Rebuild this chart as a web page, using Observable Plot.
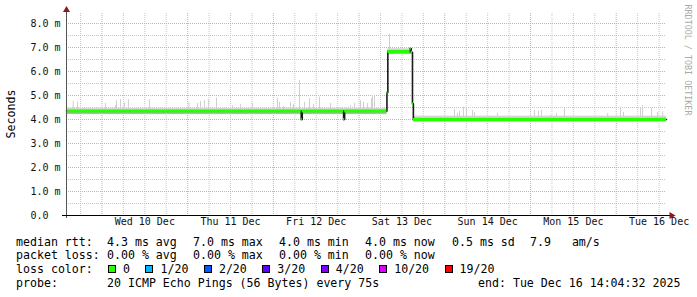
<!DOCTYPE html>
<html>
<head>
<meta charset="utf-8">
<script src="https://cdn.jsdelivr.net/npm/d3@7"></script>
<script src="https://cdn.jsdelivr.net/npm/@observablehq/plot@0.6"></script>
<style>
  html, body { margin: 0; padding: 0; background: #fff; }
  #wrap { position: relative; width: 697px; height: 297px; background: #fff; overflow: hidden;
          font-family: "DejaVu Sans Mono", monospace; color: #000; }
  #chart { position: absolute; left: 0; top: 0; }
  .t { position: absolute; white-space: pre; font-size: 11.6px; line-height: 14px; }
  .sw { display: inline-block; width: 6px; height: 6px; border: 1px solid #000; vertical-align: middle; margin-right: 7px; position: relative; top: -1px; }
  .li { display: inline-block; margin-right: 15.5px; }
</style>
</head>
<body>
<div id="wrap"><div id="chart"></div></div>
<script>
// ---- data ----
const startTime = "2025-12-09T14:04:32";
const endTime = "2025-12-16T14:04:32";

const yTicks = [0, 1, 2, 3, 4, 5, 6, 7, 8];
const yTickLabels = ["0.0", "1.0 m", "2.0 m", "3.0 m", "4.0 m", "5.0 m", "6.0 m", "7.0 m", "8.0 m"];
const yMinor = [0.5, 1.5, 2.5, 3.5, 4.5, 5.5, 6.5, 7.5];

const xTickTimes = ["2025-12-10T12:00", "2025-12-11T12:00", "2025-12-12T12:00", "2025-12-13T12:00",
                    "2025-12-14T12:00", "2025-12-15T12:00", "2025-12-16T12:00"];
const xTickLabels = ["Wed 10 Dec", "Thu 11 Dec", "Fri 12 Dec", "Sat 13 Dec", "Sun 14 Dec", "Mon 15 Dec", "Tue 16 Dec"];

// median rtt (ms), step segments: value holds from medianTimes[i] to medianTimes[i+1]
const medianTimes = ["2025-12-09T14:04:32", "2025-12-12T07:48", "2025-12-12T08:05", "2025-12-12T19:40",
                     "2025-12-12T19:57", "2025-12-13T07:48", "2025-12-13T08:03", "2025-12-13T14:18",
                     "2025-12-13T14:35", "2025-12-13T14:57", "2025-12-13T15:12", "2025-12-16T14:04:32"];
const medianValues = [4.35, 4.0, 4.35, 4.0, 4.35, 5.12, 6.83, 6.96, 6.80, 4.65, 4.0];

// smoke (spread of the 20 pings) per period, ms
const smokeStart = ["2025-12-09T14:04:32", "2025-12-13T08:03", "2025-12-13T15:12"];
const smokeEnd   = ["2025-12-13T07:48", "2025-12-13T14:57", "2025-12-16T14:04:32"];
const smokeOuterLo = [4.20, 6.70, 3.89];
const smokeOuterHi = [4.47, 6.95, 4.14];
const smokeInnerLo = [4.22, 6.72, 3.91];
const smokeInnerHi = [4.38, 6.88, 4.05];

// single-sample spikes of the slowest pings (time, top in ms)
const spikeTimes = [
  "2025-12-09T15:57", "2025-12-09T17:09", "2025-12-10T01:00", "2025-12-10T03:48", "2025-12-10T04:05",
  "2025-12-10T05:12", "2025-12-10T06:18", "2025-12-10T07:25", "2025-12-10T13:18", "2025-12-11T00:23",
  "2025-12-11T02:45", "2025-12-11T03:36", "2025-12-11T04:43", "2025-12-11T05:48", "2025-12-11T08:05",
  "2025-12-11T12:36", "2025-12-11T14:49", "2025-12-11T18:11", "2025-12-12T01:09", "2025-12-12T01:43",
  "2025-12-12T02:50", "2025-12-12T04:48", "2025-12-12T05:38", "2025-12-12T07:19", "2025-12-12T08:43",
  "2025-12-12T10:07", "2025-12-12T11:14", "2025-12-12T12:55", "2025-12-12T16:00", "2025-12-12T21:36",
  "2025-12-12T22:43", "2025-12-13T00:24", "2025-12-13T01:14", "2025-12-13T02:21", "2025-12-13T03:28",
  "2025-12-13T03:45", "2025-12-13T04:19", "2025-12-13T08:31",
  "2025-12-14T02:43", "2025-12-14T03:33", "2025-12-14T04:07", "2025-12-14T05:14", "2025-12-14T06:05",
  "2025-12-14T07:46", "2025-12-14T08:20", "2025-12-14T14:46", "2025-12-15T01:07", "2025-12-15T02:14",
  "2025-12-15T03:05", "2025-12-15T05:36", "2025-12-15T07:16", "2025-12-15T09:31", "2025-12-15T21:36",
  "2025-12-16T01:12", "2025-12-16T02:02", "2025-12-16T06:48", "2025-12-16T07:22", "2025-12-16T09:54",
  "2025-12-16T11:35", "2025-12-16T13:00"];
const spikeTops = [
  4.76, 4.73, 4.67, 4.58, 4.79,
  4.83, 4.67, 4.83, 4.83, 4.71,
  4.67, 4.75, 4.79, 4.83, 4.89,
  4.58, 4.62, 4.67, 4.89, 4.72,
  4.54, 4.71, 4.62, 5.62, 4.72,
  4.87, 4.62, 4.93, 4.67, 4.58,
  4.67, 4.79, 4.72, 4.67, 4.87,
  5.00, 5.00, 7.56,
  4.42, 4.25, 4.33, 4.51, 4.50,
  4.38, 4.29, 4.25, 4.38, 4.35,
  4.38, 4.17, 4.25, 4.49, 4.25,
  4.49, 4.30, 4.46, 4.58, 4.47,
  4.29, 4.33];

// legend
const statLabels = ["median rtt:", "packet loss:"];
const statItems = [
  ["4.3 ms avg", "7.0 ms max", "4.0 ms min", "4.0 ms now", "0.5 ms sd", "7.9   am/s"],
  ["0.00 % avg", "0.00 % max", "0.00 % min", "0.00 % now"]
];
const lossLabels = ["0", "1/20", "2/20", "3/20", "4/20", "10/20", "19/20"];
const lossColors = ["#26ff00", "#00b8ff", "#0059ff", "#5e00ff", "#7e00ff", "#dd00ff", "#ff0000"];
const probeText = "20 ICMP Echo Pings (56 Bytes) every 75s";
const endText = "end: Tue Dec 16 14:04:32 2025";

// ---- chart ----
const T = s => new Date(s);
const start = T(startTime), end = T(endTime);
const segIdx = medianValues.map((_, i) => i);
const medianAt = t => {
  let v = medianValues[0];
  for (let i = 0; i < medianValues.length; i++) if (T(medianTimes[i]) <= t) v = medianValues[i];
  return v;
};
const linePts = medianTimes.map((t, i) => ({t: T(t), v: medianValues[Math.min(i, medianValues.length - 1)]}));
const smokeIdx = smokeStart.map((_, i) => i);
const spikeIdx = spikeTimes.map((_, i) => i);

const majorGrid = "#e9a3a3", minorGrid = "#c6c6c6";

const chart = Plot.plot({
  width: 697, height: 232,
  marginLeft: 66, marginRight: 31, marginTop: 11, marginBottom: 17,
  x: {type: "time", domain: [start, end], axis: null},
  y: {domain: [0, 8.5], axis: null},
  style: {fontFamily: "DejaVu Sans Mono", background: "transparent", color: "#000"},
  marks: [
    // grid
    Plot.ruleY(yMinor, {stroke: minorGrid, strokeDasharray: "1,1"}),
    Plot.ruleX(d3.timeHour.every(6).range(start, end).filter(d => d.getHours() !== 0),
               {stroke: minorGrid, strokeDasharray: "1,1", insetTop: 2}),
    Plot.ruleY(yTicks.slice(1), {stroke: majorGrid, strokeDasharray: "1,1"}),
    Plot.ruleX(d3.timeDay.range(start, end), {stroke: majorGrid, strokeDasharray: "1,1", insetTop: 2}),
    // smoke
    Plot.rect(smokeIdx, {x1: i => T(smokeStart[i]), x2: i => T(smokeEnd[i]),
                         y1: i => smokeOuterLo[i], y2: i => smokeOuterHi[i], fill: "#d6d6d6"}),
    Plot.rect(smokeIdx, {x1: i => T(smokeStart[i]), x2: i => T(smokeEnd[i]),
                         y1: i => smokeInnerLo[i], y2: i => smokeInnerHi[i], fill: "#ababab"}),
    Plot.ruleX(spikeIdx, {x: i => T(spikeTimes[i]), y1: i => medianAt(T(spikeTimes[i])),
                          y2: i => spikeTops[i], stroke: "#cfcfcf", strokeWidth: 1}),
    // median
    Plot.line(linePts, {x: "t", y: "v", curve: "step-after", stroke: "#1a1a1a", strokeWidth: 1.6}),
    Plot.ruleY(segIdx, {y: i => medianValues[i], x1: i => T(medianTimes[i]), x2: i => T(medianTimes[i + 1]),
                        stroke: "#26ff00", strokeWidth: 3}),
    // axes
    Plot.ruleX([start], {stroke: "#555", insetTop: -3, insetBottom: -3}),
    Plot.ruleY([0], {stroke: "#000", insetLeft: -4, insetRight: -4}),
    Plot.dot([0], {frameAnchor: "top-left", dy: -1.5, symbol: "triangle", r: 2.6, fill: "#8b1a1a", stroke: "none"}),
    Plot.dot([0], {frameAnchor: "bottom-right", dx: 5, symbol: "triangle", r: 2.6, rotate: 90, fill: "#8b1a1a", stroke: "none"}),
    // tick labels
    Plot.text(yTicks, {y: d => d, text: (d, i) => yTickLabels[i], frameAnchor: "left", textAnchor: "start",
                       dx: -36, fontSize: 10, fill: "#111"}),
    Plot.text(xTickTimes, {x: d => T(d), text: (d, i) => xTickLabels[i], frameAnchor: "bottom",
                           dy: 9, fontSize: 10, fill: "#111"})
  ]
});
document.getElementById("chart").appendChild(chart);

// ---- text around the chart ----
const wrap = document.getElementById("wrap");
function addText(txt, left, top, extra) {
  const d = document.createElement("div");
  d.className = "t";
  d.textContent = txt;
  d.style.left = left + "px";
  d.style.top = top + "px";
  if (extra) Object.assign(d.style, extra);
  wrap.appendChild(d);
  return d;
}
// y label
addText("Seconds", 11, 113.5, {transform: "translate(-50%,-50%) rotate(-90deg)"});
// watermark
addText("RRDTOOL / TOBI OETIKER", 688, 60, {transform: "translate(-50%,-50%) rotate(90deg)", fontSize: "8.4px", color: "#aaa"});

const rowTops = [234.7, 248, 262, 275.7];
const colLeft = [107, 193, 279, 365, 452, 530];
statLabels.forEach((lab, r) => {
  addText(lab, 16, rowTops[r]);
  statItems[r].forEach((it, c) => addText(it, colLeft[c], rowTops[r]));
});
addText("loss color:", 16, rowTops[2]);
const lossRow = addText("", 108, rowTops[2]);
lossLabels.forEach((lab, i) => {
  const item = document.createElement("span");
  item.className = "li";
  const sw = document.createElement("span");
  sw.className = "sw";
  sw.style.background = lossColors[i];
  item.appendChild(sw);
  item.appendChild(document.createTextNode(lab));
  lossRow.appendChild(item);
});
addText("probe:", 16, rowTops[3]);
addText(probeText, 107, rowTops[3]);
addText(endText, 478, rowTops[3]);
</script>
</body>
</html>
